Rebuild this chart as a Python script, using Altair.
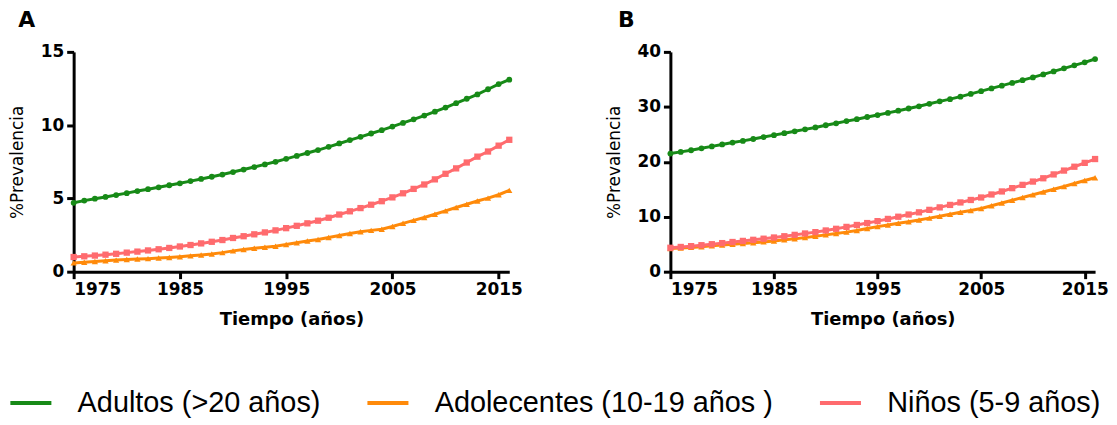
import altair as alt
import pandas as pd

years = list(range(1975, 2017))
series = ["Adultos (>20 años)", "Adolecentes (10-19 años )", "Niños (5-9 años)"]
colors = ["#178a17", "#ff8a0a", "#ff6b6e"]
shapes = ["circle", "triangle-up", "square"]
point_sizes = [34, 40, 40]

# Panel A
a_adultos = [4.7, 4.85, 4.98, 5.1, 5.23, 5.36, 5.5, 5.63, 5.76, 5.9, 6.03, 6.18, 6.33, 6.48,
             6.63, 6.8, 6.97, 7.14, 7.32, 7.5, 7.7, 7.9, 8.1, 8.3, 8.52, 8.75, 8.98, 9.2, 9.43,
             9.66, 9.9, 10.15, 10.4, 10.65, 10.92, 11.2, 11.5, 11.8, 12.1, 12.45, 12.8, 13.1]
a_adolec = [0.6, 0.65, 0.7, 0.74, 0.79, 0.83, 0.86, 0.89, 0.93, 0.97, 1.02, 1.08, 1.14, 1.2,
            1.3, 1.42, 1.52, 1.6, 1.67, 1.74, 1.85, 1.98, 2.1, 2.2, 2.33, 2.47, 2.6, 2.72, 2.82,
            2.9, 3.08, 3.3, 3.5, 3.7, 3.92, 4.15, 4.38, 4.6, 4.82, 5.02, 5.25, 5.55]
a_ninos = [1.0, 1.05, 1.1, 1.16, 1.22, 1.3, 1.37, 1.45, 1.53, 1.62, 1.72, 1.82, 1.93, 2.04,
           2.16, 2.3, 2.42, 2.55, 2.68, 2.82, 2.97, 3.13, 3.3, 3.48, 3.68, 3.9, 4.12, 4.34, 4.57,
           4.81, 5.07, 5.35, 5.65, 5.95, 6.3, 6.68, 7.05, 7.45, 7.85, 8.2, 8.6, 9.0]

# Panel B
b_adultos = [21.5, 21.8, 22.1, 22.45, 22.8, 23.15, 23.5, 23.8, 24.15, 24.5, 24.85, 25.2, 25.55,
             25.9, 26.25, 26.65, 27.0, 27.4, 27.75, 28.15, 28.5, 28.9, 29.3, 29.7, 30.1, 30.55,
             31.0, 31.4, 31.85, 32.35, 32.85, 33.35, 33.85, 34.35, 34.85, 35.35, 35.9, 36.45,
             37.0, 37.55, 38.1, 38.7]
b_adolec = [4.2, 4.3, 4.42, 4.55, 4.7, 4.85, 5.0, 5.12, 5.25, 5.42, 5.6, 5.8, 6.0, 6.2, 6.45,
            6.7, 6.95, 7.2, 7.5, 7.85, 8.2, 8.5, 8.8, 9.1, 9.4, 9.75, 10.1, 10.45, 10.8, 11.15,
            11.5, 12.0, 12.5, 13.0, 13.5, 14.0, 14.5, 15.0, 15.5, 16.05, 16.6, 17.1]
b_ninos = [4.35, 4.5, 4.65, 4.82, 5.0, 5.2, 5.4, 5.6, 5.8, 6.0, 6.22, 6.45, 6.7, 6.95, 7.2,
           7.5, 7.8, 8.15, 8.5, 8.85, 9.2, 9.6, 10.0, 10.4, 10.8, 11.25, 11.7, 12.15, 12.6,
           13.05, 13.5, 14.05, 14.6, 15.2, 15.8, 16.4, 17.0, 17.7, 18.4, 19.1, 19.8, 20.5]

x_ticks = [1975, 1985, 1995, 2005, 2015]
a_yticks = [0, 5, 10, 15]
b_yticks = [0, 10, 20, 30, 40]


def make_df(vals_list):
    rows = []
    for name, vals in zip(series, vals_list):
        for y, v in zip(years, vals):
            rows.append({"year": y, "value": v, "serie": name})
    return pd.DataFrame(rows)


df_a = make_df([a_adultos, a_adolec, a_ninos])
df_b = make_df([b_adultos, b_adolec, b_ninos])

color_scale = alt.Scale(domain=series, range=colors)


def panel(df, ymax, yticks, label, width, height, tdx):
    x = alt.X("year:Q", scale=alt.Scale(domain=[1975, 2016], nice=False, zero=False),
              axis=alt.Axis(values=x_ticks, format="d", title="Tiempo (años)"))
    y = alt.Y("value:Q", scale=alt.Scale(domain=[0, ymax], nice=False),
              axis=alt.Axis(values=yticks, title="%Prevalencia"))
    color = alt.Color("serie:N", scale=color_scale, sort=series,
                      legend=alt.Legend(title=None, orient="none", direction="horizontal",
                                        legendX=-66, legendY=330,
                                        symbolType="stroke", symbolStrokeWidth=4,
                                        symbolSize=1700, labelFontSize=29,
                                        labelFont="Liberation Sans", labelColor="black",
                                        labelLimit=0, columnPadding=38, labelOffset=24))
    layers = [alt.Chart(df).mark_line(strokeWidth=3, clip=False).encode(
        x=x, y=y, color=color, detail="serie:N")]
    for name, c, s, sz in zip(series, colors, shapes, point_sizes):
        layers.append(
            alt.Chart(df).transform_filter(alt.datum.serie == name)
            .mark_point(filled=True, opacity=1, shape=s, size=sz, color=c, clip=False)
            .encode(x=x, y=y)
        )
    return alt.layer(*layers).properties(
        width=width, height=height,
        title=alt.TitleParams(label, anchor="start", font="DejaVu Sans", fontSize=22,
                              fontWeight="bold", dx=tdx, offset=11, color="black"))


chart_a = panel(df_a, 15, a_yticks, "A", 438, 221, 10)
chart_b = panel(df_b, 40, b_yticks, "B", 427, 221, 13)

chart = alt.hconcat(chart_a, chart_b, spacing=83).properties(
    padding={"left": 0, "top": 0, "right": 0, "bottom": 0}
).configure_view(stroke=None).configure_axis(
    grid=False, domainColor="black", domainWidth=3, tickColor="black", tickWidth=3,
    tickSize=7, labelFont="DejaVu Sans", labelFontWeight="bold", labelFontSize=17,
    labelColor="black", labelPadding=3, titleColor="black"
).configure_axisX(
    titleFont="DejaVu Sans", titleFontWeight="bold", titleFontSize=18, titlePadding=13
).configure_axisY(
    titleFont="DejaVu Sans", titleFontWeight="normal", titleFontSize=17, titlePadding=14
)

chart.save("out.html", embed_options={"renderer": "svg", "actions": False})
